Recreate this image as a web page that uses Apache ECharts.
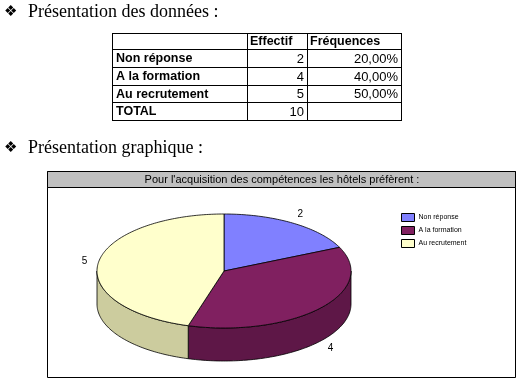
<!DOCTYPE html>
<html><head><meta charset="utf-8">
<script src="https://cdn.jsdelivr.net/npm/echarts@6.0.0/dist/echarts.min.js"></script>
<style>html,body{margin:0;padding:0;background:#fff}#c{width:522px;height:382px}</style>
</head><body><div id="c"></div>
<script>
// ---- data ----
const categories = ['Non réponse', 'A la formation', 'Au recrutement'];
const effectif = [2, 4, 5];
const frequences = ['20,00%', '40,00%', '50,00%'];
const tableHeaders = ['', 'Effectif', 'Fréquences'];
const totalLabel = 'TOTAL';
const totalValue = 10;
const heading1 = 'Présentation des données :';
const heading2 = 'Présentation graphique :';
const chartTitle = "Pour l'acquisition des compétences les hôtels préfèrent :";
const bullet = '❖';

// ---- styles ----
const topColors = ['#8080FF', '#802060', '#FFFFCC'];
const sideColors = ['#6262C8', '#5E1747', '#CCCC9E'];
const SANS = '"Liberation Sans", Arial, sans-serif';
const SERIF = '"Liberation Serif", "Times New Roman", serif';

// ---- layout ----
const PIE = { cx: 224, cy: 271, rx: 127, ry: 57, depth: 33 };
const colX = [112, 247, 307, 401];
const rowY = [33, 49, 67, 85, 102, 120];

const total = effectif.reduce((a, b) => a + b, 0);
function pt(t, dy) { return [PIE.cx + PIE.rx * Math.sin(t), PIE.cy - PIE.ry * Math.cos(t) + (dy || 0)]; }
function arcPts(a, b, dy) {
  const n = Math.max(2, Math.ceil((b - a) / 0.02)); const out = [];
  for (let i = 0; i <= n; i++) out.push(pt(a + (b - a) * i / n, dy));
  return out;
}
function makeRender(i) {
  return function (params, api) {
    const v = api.value(0);
    let start = 0; for (let k = 0; k < i; k++) start += effectif[k];
    const a = start / total * 2 * Math.PI, b = (start + v) / total * 2 * Math.PI;
    const children = [];
    const fa = Math.max(a, Math.PI / 2), fb = Math.min(b, 3 * Math.PI / 2);
    if (fb > fa) {
      const topArc = arcPts(fa, fb, 0), botArc = arcPts(fa, fb, PIE.depth).reverse();
      children.push({ type: 'polygon', shape: { points: topArc.concat(botArc) },
        style: { fill: sideColors[i], stroke: '#000', lineWidth: 0.8 } });
    }
    children.push({ type: 'polygon', shape: { points: [[PIE.cx, PIE.cy]].concat(arcPts(a, b, 0)) },
      style: { fill: topColors[i], stroke: '#000', lineWidth: 0.8 } });
    const m = (a + b) / 2;
    const lx = PIE.cx + (PIE.rx + 14) * Math.sin(m);
    let ly = PIE.cy - (PIE.ry + 10) * Math.cos(m);
    if (Math.cos(m) < 0) ly += PIE.depth;
    children.push({ type: 'text', style: { text: String(v), x: lx, y: ly, align: 'center', verticalAlign: 'middle',
      textAlign: 'center', textVerticalAlign: 'middle', fontSize: 10, fontFamily: SANS, fill: '#000' } });
    return { type: 'group', children: children };
  };
}

// ---- graphic: headings, table, frame ----
const g = [];
function txt(text, x, y, opt) {
  g.push(Object.assign({ type: 'text', z: 10, style: Object.assign({ text: text, x: x, y: y, fill: '#000',
    align: 'left', textAlign: 'left', verticalAlign: 'middle', textVerticalAlign: 'middle',
    fontSize: 12, fontFamily: SANS }, opt) }));
}
txt(bullet, 4, 12, { fontSize: 15, fontFamily: '"DejaVu Sans"' });
txt(heading1, 28, 12, { fontSize: 18, fontFamily: SERIF });
txt(bullet, 4, 148, { fontSize: 15, fontFamily: '"DejaVu Sans"' });
txt(heading2, 28, 148, { fontSize: 18, fontFamily: SERIF });

// table lines
for (const y of rowY) g.push({ type: 'line', z: 5, shape: { x1: colX[0], y1: y + 0.5, x2: colX[3], y2: y + 0.5 }, style: { stroke: '#000', lineWidth: 1 } });
for (const x of colX) g.push({ type: 'line', z: 5, shape: { x1: x + 0.5, y1: rowY[0], x2: x + 0.5, y2: rowY[rowY.length - 1] + 1 }, style: { stroke: '#000', lineWidth: 1 } });
const rows = [tableHeaders].concat(categories.map((c, i) => [c, String(effectif[i]), frequences[i]])).concat([[totalLabel, String(totalValue), '']]);
rows.forEach((r, ri) => {
  const yc = (rowY[ri] + rowY[ri + 1]) / 2 + 1;
  if (ri === 0) {
    txt(r[1], colX[1] + 3, yc, { fontWeight: 'bold', fontSize: 12.5 });
    txt(r[2], colX[2] + 3, yc, { fontWeight: 'bold', fontSize: 12.5 });
  } else {
    txt(r[0], colX[0] + 4, yc, { fontWeight: 'bold', fontSize: 12.5 });
    txt(r[1], colX[2] - 3, yc, { align: 'right', textAlign: 'right', fontSize: 13 });
    txt(r[2], colX[3] - 3, yc, { align: 'right', textAlign: 'right', fontSize: 13 });
  }
});

// chart frame
g.push({ type: 'rect', z: 1, shape: { x: 47.5, y: 171.5, width: 468, height: 206 }, style: { fill: '#fff', stroke: '#000', lineWidth: 1 } });
g.push({ type: 'rect', z: 2, shape: { x: 47.5, y: 171.5, width: 468, height: 16 }, style: { fill: '#C0C0C0', stroke: '#000', lineWidth: 1 } });
txt(chartTitle, 282, 180, { align: 'center', textAlign: 'center', fontSize: 11 });

const chart = echarts.init(document.getElementById('c'), null, { renderer: 'canvas' });
chart.setOption({
  animation: false,
  backgroundColor: '#fff',
  graphic: { elements: g },
  legend: {
    data: categories, orient: 'vertical', left: 401, top: 213, padding: 0,
    itemWidth: 13, itemHeight: 8, itemGap: 4, icon: 'rect', z: 20,
    itemStyle: { borderColor: '#000', borderWidth: 1 },
    textStyle: { fontSize: 7, fontFamily: SANS, color: '#000', padding: [0, 0, 0, -1] },
    selectedMode: false
  },
  series: categories.map((c, i) => ({
    type: 'custom', name: c, coordinateSystem: 'none', z: 20,
    itemStyle: { color: topColors[i] },
    data: [[effectif[i]]],
    renderItem: makeRender(i)
  }))
});
</script></body></html>
